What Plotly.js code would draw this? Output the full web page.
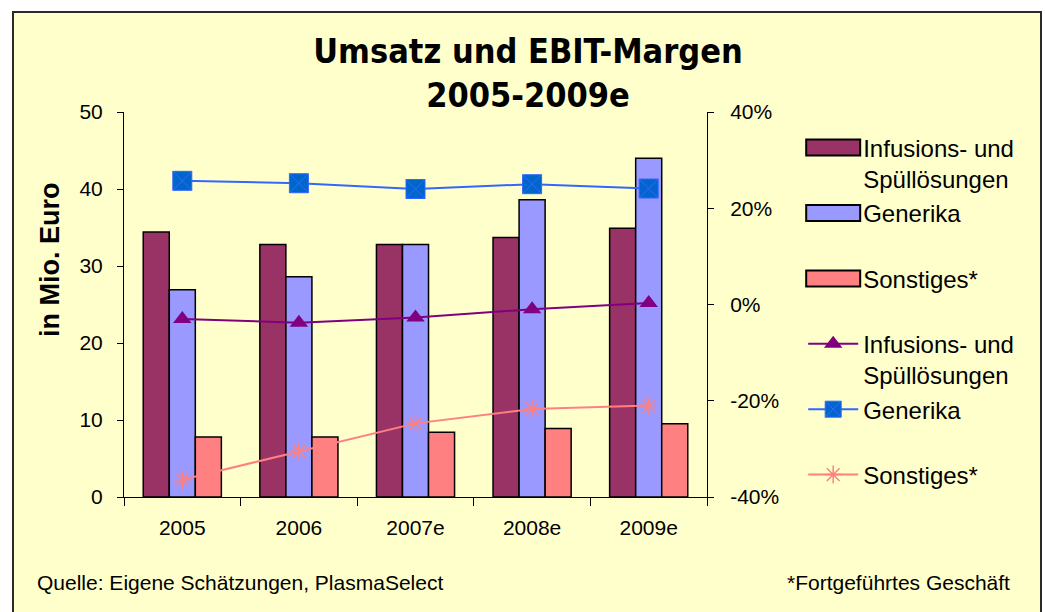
<!DOCTYPE html>
<html>
<head>
<meta charset="utf-8">
<script src="https://cdn.plot.ly/plotly-3.0.1.min.js"></script>
<style>
  html, body { margin: 0; padding: 0; background: #ffffff; overflow: hidden; width: 1045px; height: 612px; }
  #frame { position: absolute; left: 12px; top: 11px; width: 1026px; height: 610px; border: 2px solid #2a2a2a; background: #FFFFCC; }
  #chart { width: 1026px; height: 610px; }
</style>
</head>
<body>
<div id="frame"><div id="chart"></div></div>
<script>
// ---- data ----
const categories = ['2005', '2006', '2007e', '2008e', '2009e'];
const umsatzInfusion = [34.4, 32.8, 32.8, 33.7, 34.9];
const umsatzGenerika = [26.9, 28.6, 32.8, 38.6, 44.0];
const umsatzSonstiges = [7.8, 7.8, 8.4, 8.9, 9.5];
const margeInfusion = [-0.030, -0.038, -0.027, -0.010, 0.003];
const margeGenerika = [0.257, 0.252, 0.240, 0.250, 0.241];
const margeSonstiges = [-0.364, -0.305, -0.247, -0.217, -0.210];
const leftTicks = [0, 10, 20, 30, 40, 50];
const rightTicks = [-0.4, -0.2, 0, 0.2, 0.4];
const rightTickLabels = ['-40%', '-20%', '0%', '20%', '40%'];
const labelInfusion = 'Infusions- und<br>Spüllösungen';
const labelGenerika = 'Generika<br>\u00a0';
const labelSonstiges = 'Sonstiges*<br>\u00a0';

const FONT = 'Liberation Sans, Arial, sans-serif';
const barLine = {color: '#000000', width: 1.5};

const traces = [
  {type: 'bar', x: categories, y: umsatzInfusion, name: labelInfusion, legendgroup: 'a',
   marker: {color: '#993366', line: barLine}, yaxis: 'y'},
  {type: 'bar', x: categories, y: umsatzGenerika, name: labelGenerika, legendgroup: 'b',
   marker: {color: '#9999FF', line: barLine}, yaxis: 'y'},
  {type: 'bar', x: categories, y: umsatzSonstiges, name: labelSonstiges, legendgroup: 'c',
   marker: {color: '#FF8080', line: barLine}, yaxis: 'y'},
  {type: 'scatter', mode: 'lines+markers', x: categories, y: margeInfusion, name: labelInfusion, legendgroup: 'd',
   line: {color: '#800080', width: 2}, marker: {symbol: 'triangle-up', size: 16, color: '#800080'}, yaxis: 'y2'},
  {type: 'scatter', mode: 'lines+markers', x: categories, y: margeGenerika, name: labelGenerika, legendgroup: 'e',
   line: {color: '#3366FF', width: 2}, marker: {symbol: 'square-x', size: 19, color: '#0066CC', line: {color: '#3366FF', width: 1}}, yaxis: 'y2'},
  {type: 'scatter', mode: 'lines+markers', x: categories, y: margeSonstiges, name: labelSonstiges, legendgroup: 'f',
   line: {color: '#FF8080', width: 2}, marker: {symbol: 'asterisk-open', size: 15, color: '#FF8080', line: {color: '#FF8080', width: 1.5}}, yaxis: 'y2'}
];

const layout = {
  width: 1026, height: 610,
  paper_bgcolor: '#FFFFCC', plot_bgcolor: 'rgba(0,0,0,0)',
  margin: {l: 110, r: 333, t: 99, b: 126, pad: 0},
  font: {family: FONT, size: 21, color: '#000000'},
  barmode: 'group', bargap: 0.33, bargroupgap: 0,
  title: {text: '<b>Umsatz und EBIT-Margen<br>2005-2009e</b>', x: 0.501, xref: 'container', xanchor: 'center',
          y: 0.918, yref: 'container', yanchor: 'top',
          font: {family: 'Liberation Sans Narrow, Arial Narrow, DejaVu Sans Condensed, sans-serif', size: 34, color: '#000000'}},
  xaxis: {type: 'category', showline: true, linecolor: '#000000', linewidth: 1,
          ticks: 'outside', tickson: 'boundaries', ticklen: 8, tickcolor: '#000000',
          showgrid: false, zeroline: false, tickfont: {size: 21}, ticklabelstandoff: 12},
  yaxis: {range: [0, 50], tickvals: leftTicks, showline: true, linecolor: '#000000', linewidth: 1,
          ticks: 'outside', ticklen: 6, tickcolor: '#000000', showgrid: false, zeroline: false,
          tickfont: {size: 21}, ticklabelstandoff: 10},
  yaxis2: {range: [-0.4, 0.4], tickvals: rightTicks, ticktext: rightTickLabels, overlaying: 'y', side: 'right',
           showline: true, linecolor: '#000000', linewidth: 1, ticks: 'outside', ticklen: 6, tickcolor: '#000000',
           showgrid: false, zeroline: false, tickfont: {size: 21}, ticklabelstandoff: 12},
  showlegend: true,
  legend: {x: 1.165, xanchor: 'left', y: 0.965, yanchor: 'top', bgcolor: 'rgba(0,0,0,0)',
           font: {family: FONT, size: 24, color: '#000000'}, traceorder: 'normal', tracegroupgap: 5,
           valign: 'top', itemwidth: 50},
  annotations: [
    {text: '<b>in Mio. Euro</b>', xref: 'paper', yref: 'paper', x: -0.156, y: 0.616, textangle: -90,
     showarrow: false, font: {family: FONT, size: 27, color: '#000000'}},
    {text: 'Quelle: Eigene Schätzungen, PlasmaSelect', xref: 'paper', yref: 'paper', x: -0.1527, y: -0.221,
     xanchor: 'left', yanchor: 'middle', showarrow: false, font: {family: FONT, size: 21, color: '#000000'}},
    {text: '*Fortgeführtes Geschäft', xref: 'paper', yref: 'paper', x: 1.523, y: -0.221,
     xanchor: 'right', yanchor: 'middle', showarrow: false, font: {family: FONT, size: 21, color: '#000000'}}
  ]
};

Plotly.newPlot('chart', traces, layout, {displayModeBar: false, staticPlot: true}).then(function (gd) {
  // widen the bar legend swatches to match the reference's wide rectangles
  gd.querySelectorAll('.legend path.legendbar, .legend path.legendundefined').forEach(function (p) {
    p.setAttribute('d', 'M27,8H-27V-8H27Z');
    p.style.strokeWidth = '2px';
  });
});
</script>
</body>
</html>
